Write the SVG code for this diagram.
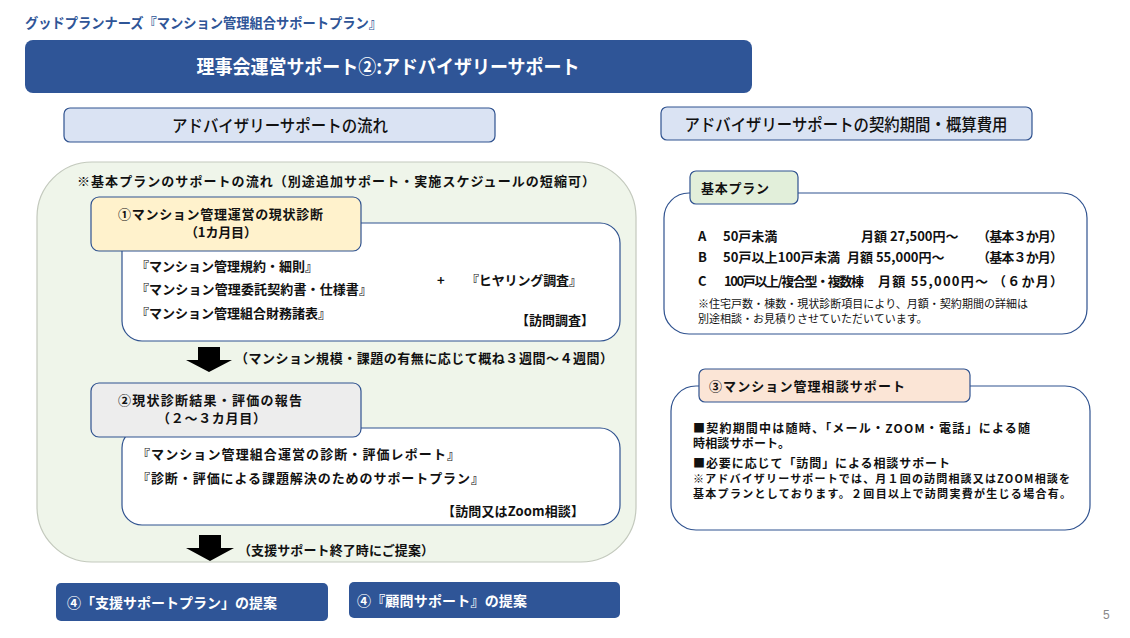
<svg xmlns="http://www.w3.org/2000/svg" width="1130" height="638" viewBox="0 0 1130 638">
<style>
text{font-family:"Noto Sans CJK JP","Noto Sans",sans-serif;font-weight:bold;fill:#111}
.hdr{fill:#dae3f3;stroke:#2f528f;stroke-width:1.2}
.wbox{fill:#fff;stroke:#2f528f;stroke-width:1.2}
.lbl{stroke:#2f528f;stroke-width:1.2}
.blue{fill:#2f5597}
.w{fill:#fff}
.s13{font-size:13px}
.s12{font-size:12px}
.s11{font-size:11px}
</style>
<rect width="1130" height="638" fill="#fff"/>
<g id="header">
<text x="25" y="28" font-size="14" textLength="357" lengthAdjust="spacingAndGlyphs" style="fill:#2f5597">グッドプランナーズ『マンション管理組合サポートプラン』</text>
</g>
<g id="title">
<rect x="25" y="40" width="727" height="53" rx="8" class="blue"/>
<text x="388" y="74" font-size="19" text-anchor="middle" textLength="383" lengthAdjust="spacingAndGlyphs" class="w">理事会運営サポート②:アドバイザリーサポート</text>
</g>
<g id="flow-header">
<rect x="64" y="108" width="431" height="34" rx="6" class="hdr"/>
<text x="280" y="132" font-size="17" text-anchor="middle" textLength="216" lengthAdjust="spacingAndGlyphs" style="font-weight:500">アドバイザリーサポートの流れ</text>
</g>
<g id="cost-header">
<rect x="661" y="107" width="371" height="33" rx="6" class="hdr"/>
<text x="846" y="131" font-size="17" text-anchor="middle" textLength="323" lengthAdjust="spacingAndGlyphs" style="font-weight:500">アドバイザリーサポートの契約期間・概算費用</text>
</g>
<g id="flow-area">
<rect x="37" y="162" width="599" height="400" rx="55" fill="#eff5ea" stroke="#c3c9bd" stroke-width="1.2"/>
<text x="77" y="186" class="s13" textLength="518">※基本プランのサポートの流れ（別途追加サポート・実施スケジュールの短縮可）</text>
</g>
<g id="step1">
<rect x="122" y="223" width="498" height="118" rx="20" class="wbox"/>
<rect x="91" y="197" width="270" height="54" rx="8" fill="#fff2cc" class="lbl"/>
<text x="118" y="219" class="s13" textLength="205">①マンション管理運営の現状診断</text>
<text x="185" y="237" class="s13" textLength="72">（1カ月目）</text>
<text x="136" y="271" class="s13" textLength="182">『マンション管理規約・細則』</text>
<text x="136" y="294" class="s13" textLength="236">『マンション管理委託契約書・仕様書』</text>
<text x="136" y="318" class="s13" textLength="195">『マンション管理組合財務諸表』</text>
<text x="437" y="285" class="s13">+</text>
<text x="466" y="285" class="s13" textLength="116">『ヒヤリング調査』</text>
<text x="594" y="325" text-anchor="end" class="s13">【訪問調査】</text>
</g>
<g id="step2">
<rect x="122" y="428" width="498" height="97" rx="20" class="wbox"/>
<rect x="91" y="383" width="270" height="54" rx="8" fill="#ededed" class="lbl"/>
<text x="118" y="405" class="s13" textLength="184">②現状診断結果・評価の報告</text>
<text x="157" y="423" class="s13" textLength="109">（２～３カ月目）</text>
<text x="137" y="459" class="s13" textLength="323">『マンション管理組合運営の診断・評価レポート』</text>
<text x="137" y="483" class="s13" textLength="347">『診断・評価による課題解決のためのサポートプラン』</text>
<text x="584" y="516" text-anchor="end" class="s13" textLength="142">【訪問又はZoom相談】</text>
</g>
<g id="connectors">
<polygon points="198,347 220,347 220,360 232,360 209,372 186,360 198,360" fill="#000"/>
<text x="235" y="363" class="s13" textLength="378">（マンション規模・課題の有無に応じて概ね３週間～４週間）</text>
<polygon points="199,535 221,535 221,548 234,548 210,561 186,548 199,548" fill="#000"/>
<text x="238" y="555" class="s13" textLength="196">（支援サポート終了時にご提案）</text>
</g>
<g id="proposal1">
<rect x="56" y="583" width="272" height="38" rx="5" class="blue"/>
<text x="67" y="608" font-size="14" class="w">④「支援サポートプラン」の提案</text>
</g>
<g id="proposal2">
<rect x="349" y="582" width="271" height="36" rx="5" class="blue"/>
<text x="357" y="606" font-size="14" class="w" textLength="170">④『顧問サポート』の提案</text>
</g>
<g id="basic-plan">
<rect x="664" y="193" width="423" height="141" rx="25" class="wbox"/>
<rect x="690" y="171" width="108" height="33" rx="6" fill="#e2efda" class="lbl"/>
<text x="701" y="193" class="s13" textLength="68">基本プラン</text>
<text x="698" y="241" class="s13">A</text>
<text x="723" y="241" class="s13">50戸未満</text>
<text x="861" y="241" class="s13">月額 27,500円～</text>
<text x="977" y="241" class="s13" textLength="86">（基本３か月）</text>
<text x="698" y="262" class="s13">B</text>
<text x="723" y="262" class="s13" textLength="117">50戸以上100戸未満</text>
<text x="847" y="262" class="s13">月額 55,000円～</text>
<text x="977" y="262" class="s13" textLength="86">（基本３か月）</text>
<text x="698" y="286" class="s13">C</text>
<text x="724" y="286" class="s13" textLength="140">100戸以上/複合型・複数棟</text>
<text x="878" y="286" class="s13" textLength="110">月額 55,000円～</text>
<text x="993" y="286" class="s13" textLength="70">（６か月）</text>
<text x="698" y="308" class="s11" style="font-weight:normal" textLength="330">※住宅戸数・棟数・現状診断項目により、月額・契約期間の詳細は</text>
<text x="698" y="323" class="s11" style="font-weight:normal">別途相談・お見積りさせていただいています。</text>
</g>
<g id="consult-support">
<rect x="671" y="386" width="419" height="144" rx="25" class="wbox"/>
<rect x="699" y="369" width="271" height="33" rx="6" fill="#fbe5d6" class="lbl"/>
<text x="709" y="391" class="s13" textLength="196">③マンション管理相談サポート</text>
<text x="693" y="433" class="s12" textLength="337">■契約期間中は随時、「メール・ZOOM・電話」による随</text>
<text x="693" y="448" class="s12" textLength="97">時相談サポート。</text>
<text x="693" y="468" class="s12" textLength="257">■必要に応じて「訪問」による相談サポート</text>
<text x="693" y="483" class="s11" textLength="377">※アドバイザリーサポートでは、月１回の訪問相談又はZOOM相談を</text>
<text x="693" y="498" class="s11" textLength="378">基本プランとしております。２回目以上で訪問実費が生じる場合有。</text>
</g>
<g id="page-number">
<text x="1103" y="619" font-size="12" style="font-family:'Liberation Sans',sans-serif;font-weight:normal;fill:#888">5</text>
</g>
</svg>
